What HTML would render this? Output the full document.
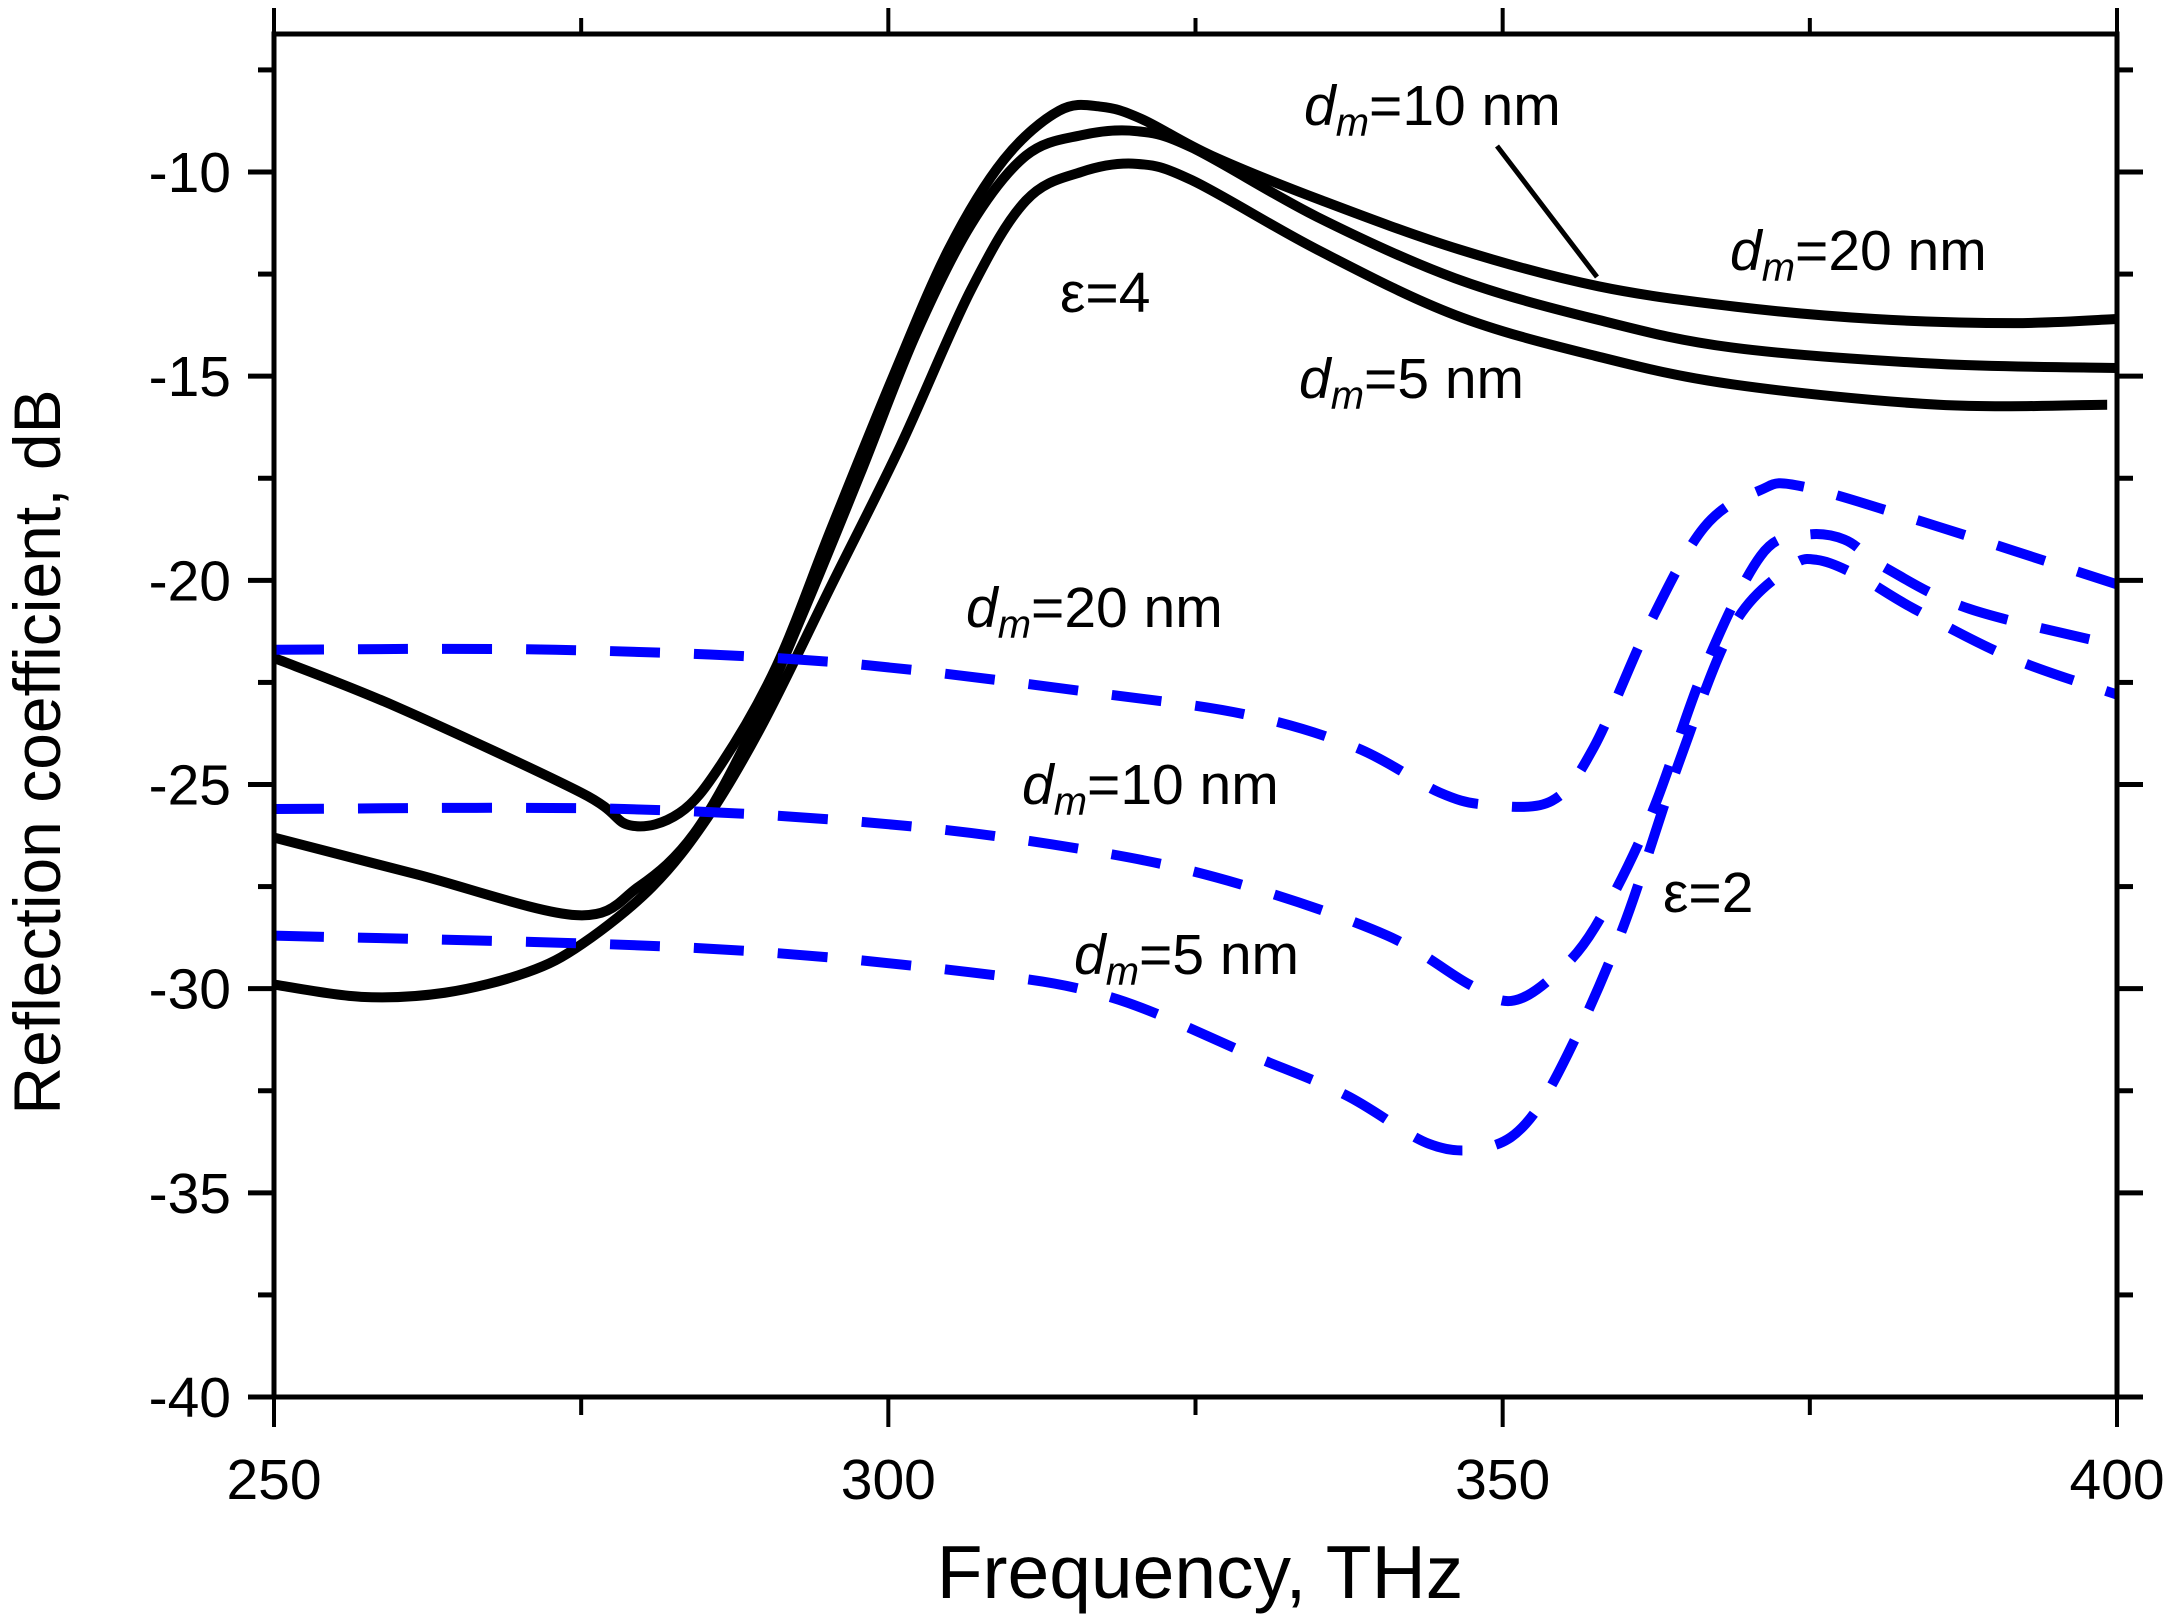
<!DOCTYPE html>
<html><head><meta charset="utf-8"><style>
html,body{margin:0;padding:0;background:#fff}
svg{display:block}
text{font-family:"Liberation Sans",sans-serif;fill:#000}
</style></head><body>
<svg id="chart" width="2168" height="1619" viewBox="0 0 2168 1619" xmlns="http://www.w3.org/2000/svg">
<g id="series"></g>
<g id="axes"></g>
<g id="labels">
<text x="1304" y="125" font-size="57"><tspan font-style="italic">d</tspan><tspan font-style="italic" font-size="40" dy="11">m</tspan><tspan dy="-11">=10 nm</tspan></text>
<line x1="1497" y1="146" x2="1597" y2="277" stroke="#000" stroke-width="5"/>
<text x="1730" y="270" font-size="57"><tspan font-style="italic">d</tspan><tspan font-style="italic" font-size="40" dy="11">m</tspan><tspan dy="-11">=20 nm</tspan></text>
<text x="1060" y="312" font-size="57">ε=4</text>
<text x="1299" y="398" font-size="57"><tspan font-style="italic">d</tspan><tspan font-style="italic" font-size="40" dy="11">m</tspan><tspan dy="-11">=5 nm</tspan></text>
<text x="966" y="627" font-size="57"><tspan font-style="italic">d</tspan><tspan font-style="italic" font-size="40" dy="11">m</tspan><tspan dy="-11">=20 nm</tspan></text>
<text x="1022" y="804" font-size="57"><tspan font-style="italic">d</tspan><tspan font-style="italic" font-size="40" dy="11">m</tspan><tspan dy="-11">=10 nm</tspan></text>
<text x="1663" y="912" font-size="57">ε=2</text>
<text x="1074" y="974" font-size="57"><tspan font-style="italic">d</tspan><tspan font-style="italic" font-size="40" dy="11">m</tspan><tspan dy="-11">=5 nm</tspan></text>
<text x="1200" y="1598" font-size="75" text-anchor="middle">Frequency, THz</text>
<text transform="translate(60,752) rotate(-90)" x="0" y="0" font-size="66" text-anchor="middle">Reflection coefficient, dB</text>
</g>
</svg>
<script>
const xTicks=[250,300,350,400];
const xMinor=[275,325,375];
const yTicks=[-10,-15,-20,-25,-30,-35,-40];
const yMinor=[-7.5,-12.5,-17.5,-22.5,-27.5,-32.5,-37.5];
const b1x=[250,260,275,279,283,286.4,290.9,295.4,300.4,304.9,309.4,313.9,317.3,320.6,326.3,335.3,346.5,357.8,369,380.3,391.6,400];
const b1y=[-21.9,-23.1,-25.2,-26.0,-25.7,-24.5,-22.1,-18.7,-15.0,-11.9,-9.7,-8.5,-8.4,-8.7,-9.6,-10.7,-11.9,-12.8,-13.3,-13.6,-13.7,-13.6];
const b2x=[250,261.6,274.6,279.7,284.2,288.7,293.2,297.7,302.2,306.7,311.2,315.7,320.2,324.7,334.9,346.1,357.5,368.7,385.5,400];
const b2y=[-26.3,-27.2,-28.2,-27.5,-26.2,-23.8,-20.7,-17.4,-14.0,-11.3,-9.6,-9.1,-9.0,-9.4,-11.1,-12.6,-13.6,-14.3,-14.7,-14.8];
const b3x=[250,257.1,263.9,270.6,275.1,280.8,285.3,289.8,295.4,301,306.7,311.2,315.7,320.2,324.7,334.9,346.1,357.5,368.7,385.5,399.2];
const b3y=[-29.9,-30.2,-30.1,-29.6,-28.9,-27.5,-25.8,-23.5,-20.1,-16.7,-12.9,-10.7,-10.0,-9.8,-10.2,-11.9,-13.5,-14.5,-15.2,-15.7,-15.7];
const u1x=[250,272.9,295.4,318,329.3,338.1,344.9,348.9,354,357.4,361.9,366.4,370.9,374.4,385.6,400];
const u1y=[-21.7,-21.7,-22.0,-22.8,-23.3,-24.1,-25.2,-25.5,-25.4,-24.1,-21.1,-18.7,-17.8,-17.7,-18.7,-20.1];
const u2x=[250,278.5,301,318,329.3,340.6,347.3,350.7,354.1,357.5,362,366.5,371,374.4,377.8,381.2,388,400];
const u2y=[-25.6,-25.6,-26.0,-26.7,-27.5,-28.7,-29.9,-30.3,-29.7,-28.5,-25.8,-22.1,-19.4,-18.9,-19.0,-19.7,-20.7,-21.6];
const u3x=[250,284.2,306.7,318,329.3,337.2,344,348.5,351.9,355.3,359.8,364.3,368.8,373.3,375.6,379,383.5,391.4,400];
const u3y=[-28.7,-29.0,-29.6,-30.2,-31.6,-32.6,-33.8,-33.9,-33.3,-31.6,-28.5,-24.5,-21.1,-19.7,-19.5,-19.9,-20.7,-21.9,-22.8];

const X0=274,X1=2117,Y0=1397,Y1=172;
function sx(v){return X0+(v-250)/150*(X1-X0);}
function sy(v){return Y1+(-10-v)/30*(Y0-Y1);}
const NS='http://www.w3.org/2000/svg';
function mk(tag,attrs,parent){const e=document.createElementNS(NS,tag);for(const k in attrs)e.setAttribute(k,attrs[k]);parent.appendChild(e);return e;}
function pathD(xs,ys){
  const p=xs.map((x,i)=>[sx(x),sy(ys[i])]);
  let d='M'+p[0][0]+','+p[0][1];
  for(let i=0;i<p.length-1;i++){
    const p0=p[i-1]||p[i],p1=p[i],p2=p[i+1],p3=p[i+2]||p2;
    const c1=[p1[0]+(p2[0]-p0[0])/6,p1[1]+(p2[1]-p0[1])/6];
    const c2=[p2[0]-(p3[0]-p1[0])/6,p2[1]-(p3[1]-p1[1])/6];
    d+=' C'+c1[0]+','+c1[1]+' '+c2[0]+','+c2[1]+' '+p2[0]+','+p2[1];
  }
  return d;
}
const sg=document.getElementById('series');
const blacks=[[b1x,b1y,'black-curve-1'],[b2x,b2y,'black-curve-2'],[b3x,b3y,'black-curve-3']];
blacks.forEach(s=>{
  const p=mk('path',{d:pathD(s[0],s[1]),fill:'none',stroke:'#000','stroke-width':10,'stroke-linejoin':'round'},sg);
  
  
});
const blues=[[u1x,u1y,'blue-dashed-dm20'],[u2x,u2y,'blue-dashed-dm10'],[u3x,u3y,'blue-dashed-dm5']];
blues.forEach(s=>{
  const p=mk('path',{d:pathD(s[0],s[1]),fill:'none',stroke:'#0000ff','stroke-width':10,'stroke-dasharray':'50 34'},sg);
  
  
});
const ag=document.getElementById('axes');
const frame=mk('rect',{x:X0,y:34,width:X1-X0,height:Y0-34,fill:'none',stroke:'#000','stroke-width':5},ag);


xTicks.forEach(v=>{
  const x=sx(v);
  mk('line',{x1:x,y1:Y0,x2:x,y2:Y0+30,stroke:'#000','stroke-width':4},ag);
  mk('line',{x1:x,y1:34,x2:x,y2:8,stroke:'#000','stroke-width':4},ag);
  const t=mk('text',{x:x,y:1499,'font-size':57,'text-anchor':'middle'},ag);
  t.textContent=v;
  
  
});
xMinor.forEach(v=>{
  const x=sx(v);
  mk('line',{x1:x,y1:Y0,x2:x,y2:Y0+18,stroke:'#000','stroke-width':4},ag);
  mk('line',{x1:x,y1:34,x2:x,y2:18,stroke:'#000','stroke-width':4},ag);
});
yTicks.forEach(v=>{
  const y=sy(v);
  mk('line',{x1:X0,y1:y,x2:X0-26,y2:y,stroke:'#000','stroke-width':5},ag);
  mk('line',{x1:X1,y1:y,x2:X1+26,y2:y,stroke:'#000','stroke-width':5},ag);
  const t=mk('text',{x:231,y:y+20,'font-size':57,'text-anchor':'end'},ag);
  t.textContent=v;
  
  
});
yMinor.forEach(v=>{
  const y=sy(v);
  mk('line',{x1:X0,y1:y,x2:X0-16,y2:y,stroke:'#000','stroke-width':5},ag);
  mk('line',{x1:X1,y1:y,x2:X1+16,y2:y,stroke:'#000','stroke-width':5},ag);
});
</script>
</body></html>
